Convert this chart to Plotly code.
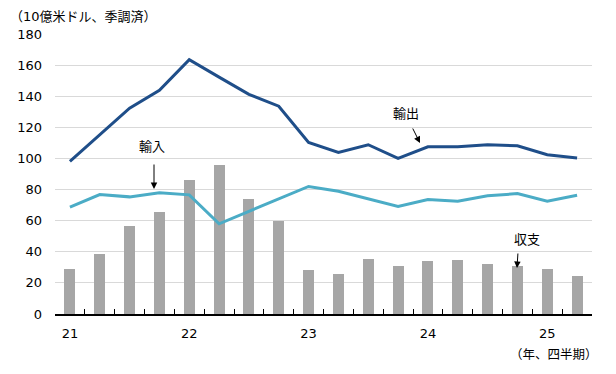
import plotly.graph_objects as go

quarters = ["21Q1","21Q2","21Q3","21Q4","22Q1","22Q2","22Q3","22Q4",
            "23Q1","23Q2","23Q3","23Q4","24Q1","24Q2","24Q3","24Q4","25Q1","25Q2"]
balance = [28.8, 38.4, 56.3, 65.3, 86.4, 95.6, 74.2, 59.5,
           28.2, 25.6, 35.2, 30.7, 33.9, 34.6, 32.0, 30.7, 28.8, 24.3]
imports = [68.7, 76.8, 75.3, 77.9, 76.6, 58.0, 66.0, 74.0,
           82.0, 78.9, 74.0, 69.1, 73.6, 72.5, 76.0, 77.4, 72.5, 76.4]
exports = [98.1, 115.5, 132.3, 143.8, 163.5, 152.3, 141.2, 133.6,
           110.3, 103.9, 108.8, 100.0, 107.5, 107.5, 108.8, 108.2, 102.4, 100.3]
year_labels = ["21", "22", "23", "24", "25"]
year_pos = [0, 4, 8, 12, 16]

x = list(range(len(quarters)))
FONT = "DejaVu Sans, Noto Sans CJK JP, sans-serif"

fig = go.Figure()
fig.add_trace(go.Bar(x=x, y=balance, width=0.37, marker_color="#a6a6a6",
                     marker_line_width=0, name="収支"))
fig.add_trace(go.Scatter(x=x, y=imports, mode="lines",
                         line=dict(color="#4bacc6", width=3), name="輸入"))
fig.add_trace(go.Scatter(x=x, y=exports, mode="lines",
                         line=dict(color="#1f4e89", width=3), name="輸出"))
# invisible trace on xaxis2 for the year labels
fig.add_trace(go.Scatter(x=[year_pos[0]], y=[0], xaxis="x2", mode="markers",
                         marker=dict(opacity=0), showlegend=False, hoverinfo="skip"))

n = len(quarters)
fig.update_layout(
    width=616, height=374,
    margin=dict(l=55, r=24, t=34, b=60, autoexpand=False),
    paper_bgcolor="white", plot_bgcolor="white",
    showlegend=False, bargap=0,
    font=dict(family=FONT, size=13, color="#000000"),
    xaxis=dict(range=[-0.5, n - 0.5], tickmode="array",
               tickvals=[i - 0.5 for i in range(n + 1)],
               ticktext=["" for _ in range(n + 1)],
               ticks="inside", ticklen=5, tickwidth=1, tickcolor="black",
               showgrid=False, zeroline=False, automargin=False,
               showline=True, linecolor="black", linewidth=1.5),
    xaxis2=dict(range=[-0.5, n - 0.5], overlaying="x", side="bottom",
                tickmode="array", tickvals=year_pos, ticktext=year_labels,
                ticks="", showgrid=False, zeroline=False, showline=False,
                automargin=False,
                ticklabelstandoff=10, tickfont=dict(size=13)),
    yaxis=dict(range=[0, 180], tickmode="array", tickvals=list(range(0, 181, 20)),
               showgrid=True, gridcolor="#d9d9d9", gridwidth=1,
               zeroline=False, showline=False, ticks="", automargin=False,
               ticklabelstandoff=12, tickfont=dict(size=13)),
)

def arrow(x0, y0, ax, ay):
    fig.add_annotation(x=x0, y=y0, xref="x", yref="y", text="", showarrow=True,
                       ax=ax, ay=ay, axref="pixel", ayref="pixel",
                       arrowhead=2, arrowsize=1.3, arrowwidth=1, arrowcolor="black",
                       standoff=0, startstandoff=0)

def label(px, py, txt):
    fig.add_annotation(x=(px - 55) / 537, y=(314 - py) / 280, xref="paper", yref="paper",
                       text=txt, showarrow=False, xanchor="center", yanchor="middle",
                       font=dict(size=13, family=FONT))

def px2x(px):
    return (px - 55) / (537 / n) - 0.5

def py2y(py):
    return (314 - py) / (280 / 180)

# 輸入
label(152, 146, "輸入")
arrow(px2x(154), py2y(189), 0, -26)
# 輸出
label(406, 113, "輸出")
arrow(px2x(420), py2y(143), -8, -16)
# 収支
label(527, 239, "収支")
arrow(px2x(517), py2y(268), 1, -16)

fig.add_annotation(x=-47 / 537, y=1, xref="paper", yref="paper", yshift=18,
                   text="（10億米ドル、季調済）", showarrow=False,
                   xanchor="left", yanchor="middle", font=dict(size=13, family=FONT))
fig.add_annotation(x=(600 - 55) / 537, y=(314 - 354) / 280, xref="paper", yref="paper",
                   text="（年、四半期）", showarrow=False,
                   xanchor="right", yanchor="middle", font=dict(size=12.5, family=FONT))

fig.write_html("out.html", config={"displayModeBar": False},
               post_script="document.body.style.margin='0px';")
